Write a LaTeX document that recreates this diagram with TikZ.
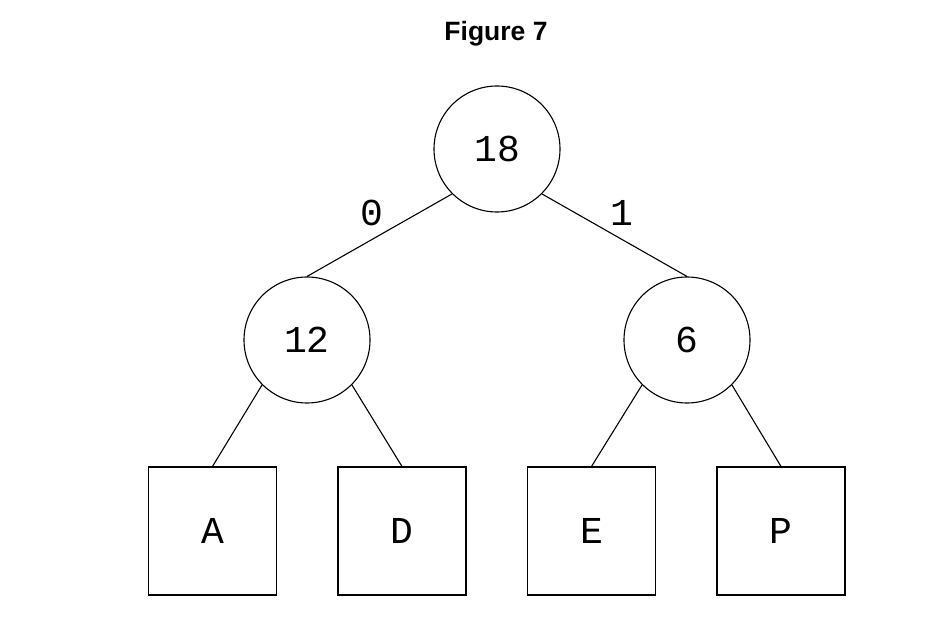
\documentclass[tikz,border=0pt]{standalone}
\usepackage{fontspec}
\setmainfont{Liberation Sans}
\newfontfamily\monof{Liberation Mono}
\begin{document}
\begin{tikzpicture}[x=1pt,y=-1pt,
  every node/.style={inner sep=0pt},
  numnode/.style={circle,draw,line width=1.1pt,minimum size=126pt,font=\monof\fontsize{38}{40}\selectfont},
  leaf/.style={rectangle,draw,line width=1.1pt,minimum size=128pt,font=\monof\fontsize{38}{40}\selectfont},
  edge/.style={line width=1.1pt},
  elabel/.style={font=\monof\fontsize{38}{40}\selectfont}]
\useasboundingbox (0,0) rectangle (930,620);
\node[font=\bfseries\fontsize{26.5}{29}\selectfont] (title) at (496,34) {Figure 7};
\node[numnode] (root) at (497,149) {18};
\node[numnode] (L) at (307,340) {12};
\node[numnode] (R) at (687,340) {6};
\node[leaf] (A) at (212.5,531) {A};
\node[leaf] (D) at (402,531) {D};
\node[leaf] (E) at (591.5,531) {E};
\node[leaf] (P) at (781,531) {P};
\draw[edge] (root.225) -- (L.north);
\draw[edge] (root.-45) -- (R.north);
\draw[edge] (L.225) -- (A.north);
\draw[edge] (L.-45) -- (D.north);
\draw[edge] (R.225) -- (E.north);
\draw[edge] (R.-45) -- (P.north);
\node[elabel] (l0) at (371.5,213) {0};
\node[elabel] (l1) at (622,213) {1};
\end{tikzpicture}
\end{document}
